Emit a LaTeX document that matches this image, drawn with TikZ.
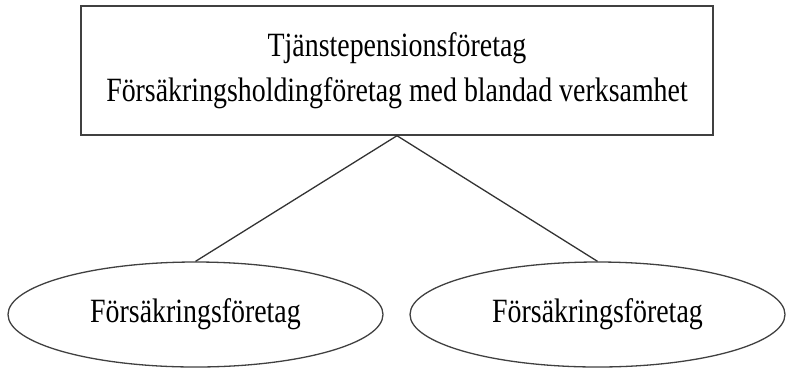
\documentclass[tikz,border=0pt]{standalone}
\usepackage{fontspec}
\setmainfont[FakeStretch=0.82]{Liberation Serif}
\usetikzlibrary{shapes.geometric}

\begin{document}
\begin{tikzpicture}[x=1pt, y=1pt]
		\useasboundingbox (0, 0) rectangle (786, -368);
		\tikzset{
			box/.style = {rectangle, draw=black!75, line width=1.4pt, minimum width=632pt, minimum height=129pt, inner sep=0pt, align=center, font=\fontsize{34}{45}\selectfont},
			oval/.style = {ellipse, draw=black!75, line width=1.3pt, minimum width=375pt, minimum height=105pt, inner sep=0pt, font=\fontsize{34}{40}\selectfont}
		}
		\node[box] (group) at (397, -70.5) {Tjänstepensionsföretag\\Försäkringsholdingföretag med blandad verksamhet};
		\node[oval] (insleft) at (195.5, -314.5) {Försäkringsföretag};
		\node[oval] (insright) at (597.5, -314.5) {Försäkringsföretag};
		\draw[line width=1.3pt, black!80] (group.south) -- (insleft.north);
		\draw[line width=1.3pt, black!80] (group.south) -- (insright.north);
	\end{tikzpicture}
\end{document}
